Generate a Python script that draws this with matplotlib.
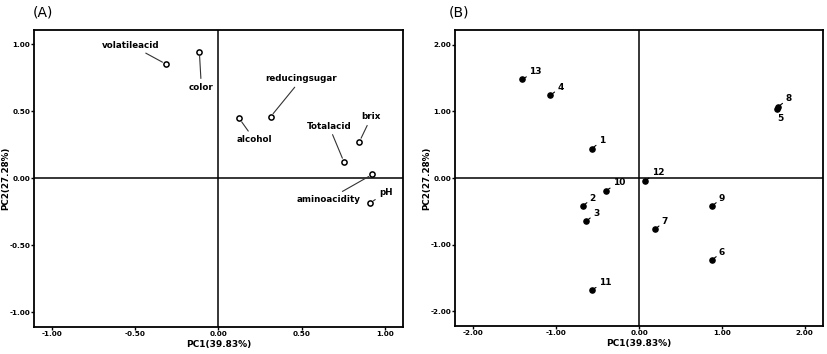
import matplotlib
matplotlib.use('Agg')
import matplotlib.pyplot as plt

# (A) loading plot
var_names = ['volatileacid', 'color', 'alcohol', 'reducingsugar', 'Totalacid',
             'brix', 'aminoacidity', 'pH']
var_pc1 = [-0.315, -0.115, 0.125, 0.313, 0.755, 0.847, 0.926, 0.911]
var_pc2 = [0.85, 0.94, 0.445, 0.457, 0.12, 0.27, 0.028, -0.187]

# (B) score plot
sample_ids = ['1', '2', '3', '4', '5', '6', '7', '8', '9', '10', '11', '12', '13']
sample_pc1 = [-0.57, -0.68, -0.64, -1.07, 1.66, 0.88, 0.19, 1.68, 0.88, -0.40, -0.57, 0.07, -1.41]
sample_pc2 = [0.44, -0.42, -0.65, 1.24, 1.04, -1.23, -0.77, 1.07, -0.42, -0.19, -1.68, -0.04, 1.48]

# label offsets (pixels)
var_offsets = {
    'volatileacid': (-35, 19), 'color': (2, -35), 'alcohol': (15, -21),
    'reducingsugar': (31, 38), 'Totalacid': (-15, 36), 'brix': (12, 25),
    'aminoacidity': (-44, -25), 'pH': (16, 11),
}
sample_offsets = {'5': (4, -10)}

plt.rcParams.update({
    'font.family': 'DejaVu Sans',
    'axes.linewidth': 1.3,
    'xtick.major.size': 2,
    'ytick.major.size': 2,
    'xtick.major.width': 1.0,
    'ytick.major.width': 1.0,
})

fig = plt.figure(figsize=(8.27, 3.54), dpi=100)
axA = fig.add_axes([0.0411, 0.0763, 0.4462, 0.839])
axB = fig.add_axes([0.5502, 0.0791, 0.4450, 0.836])


def style(ax, lim, ticks):
    ax.set_xlim(-lim, lim)
    ax.set_ylim(-lim, lim)
    ax.set_xticks(ticks)
    ax.set_yticks(ticks)
    ax.set_xticklabels([f'{t:.2f}' for t in ticks], fontsize=5.2, fontweight='bold')
    ax.set_yticklabels([f'{t:.2f}' for t in ticks], fontsize=5.2, fontweight='bold')
    ax.tick_params(pad=0.8)
    ax.axhline(0, color='black', lw=1.1, zorder=1)
    ax.axvline(0, color='black', lw=1.1, zorder=1)
    ax.set_xlabel('PC1(39.83%)', fontsize=6.5, fontweight='bold', labelpad=2)
    ax.set_ylabel('PC2(27.28%)', fontsize=6.3, fontweight='bold')
    ax.yaxis.set_label_coords(-0.064, 0.5)


style(axA, 1.11, [-1.0, -0.5, 0.0, 0.5, 1.0])
style(axB, 2.22, [-2.0, -1.0, 0.0, 1.0, 2.0])
axA.set_ylim(-1.11, 1.105)

axA.scatter(var_pc1, var_pc2, s=14, facecolors='white', edgecolors='black',
            linewidths=1.1, zorder=3)
for n, x, y in zip(var_names, var_pc1, var_pc2):
    axA.annotate(n, (x, y), xytext=var_offsets[n], textcoords='offset pixels',
                 ha='center', va='center', fontsize=6.3, fontweight='bold',
                 arrowprops=dict(arrowstyle='-', color='#333333', lw=0.8,
                                 shrinkA=1, shrinkB=3))

axB.scatter(sample_pc1, sample_pc2, s=14, color='black', zorder=3)
for n, x, y in zip(sample_ids, sample_pc1, sample_pc2):
    off = sample_offsets.get(n, (7, 8))
    axB.annotate(n, (x, y), xytext=off, textcoords='offset pixels',
                 ha='left' if n != '5' else 'center', va='center',
                 fontsize=6.5, fontweight='bold',
                 arrowprops=dict(arrowstyle='-', color='black', lw=0.8,
                                 shrinkA=0, shrinkB=1))

fig.text(0.040, 0.965, '(A)', fontsize=10, va='center')
fig.text(0.543, 0.965, '(B)', fontsize=10, va='center')

fig.savefig('out.png', dpi=100)
